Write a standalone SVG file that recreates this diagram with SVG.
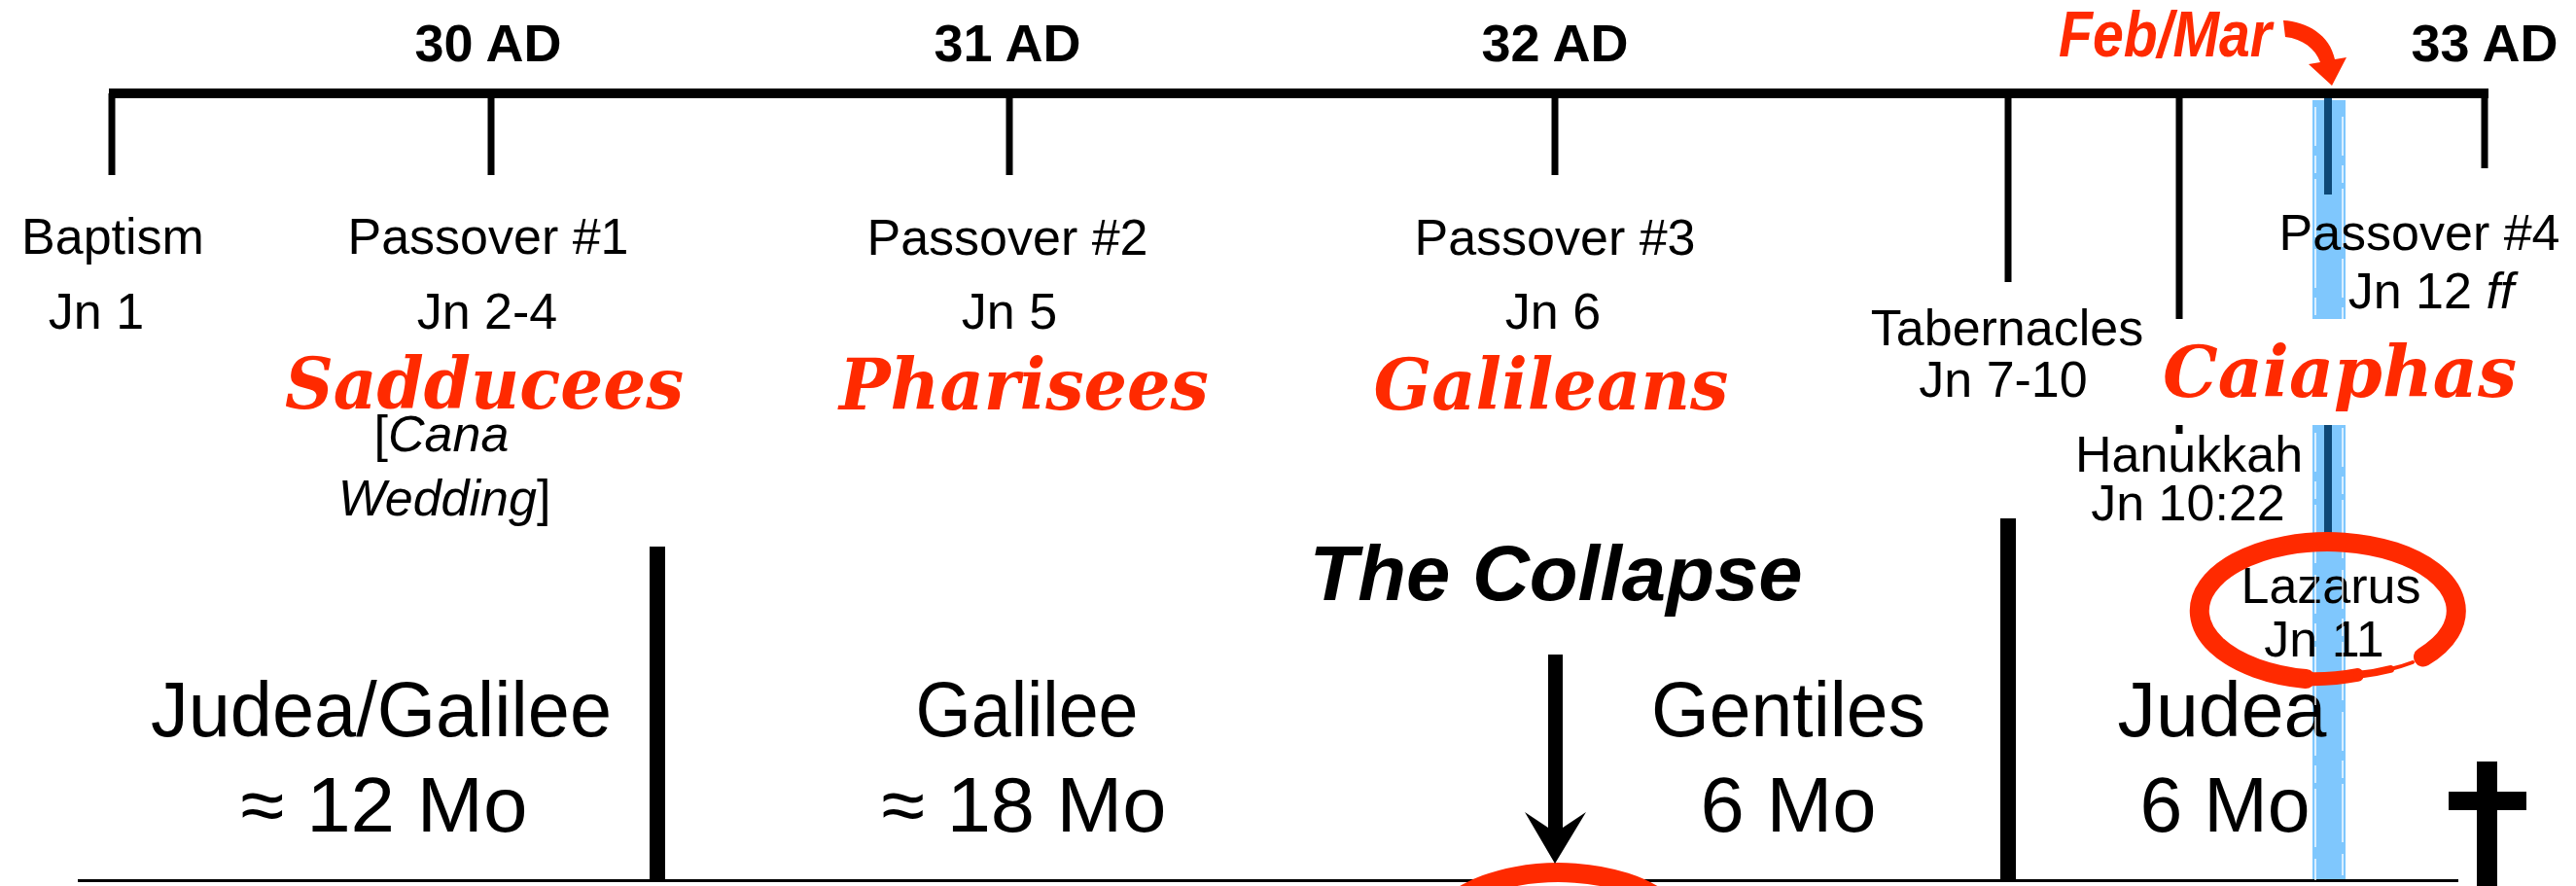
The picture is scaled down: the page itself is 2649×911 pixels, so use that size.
<svg xmlns="http://www.w3.org/2000/svg" width="2649" height="911" viewBox="0 0 2649 911">
<defs>
<style>
.bg{fill:#ffffff}
.yr{font-family:"Liberation Sans",Arial,sans-serif;font-weight:bold;font-size:54px;fill:#000;text-anchor:middle}
.lb{font-family:"Liberation Sans",Arial,sans-serif;font-size:52px;fill:#000;text-anchor:middle}
.big{font-family:"Liberation Sans",Arial,sans-serif;font-size:80px;fill:#000;text-anchor:middle}
.grp{font-family:"DejaVu Serif","Liberation Serif",serif;font-weight:bold;font-style:italic;font-size:72px;fill:#FF2A00;text-anchor:middle}
.it{font-style:italic}
.tick{stroke:#000;stroke-width:7;fill:none}
.div{stroke:#000;stroke-width:16;fill:none}
.band{fill:#7FC7FD;mix-blend-mode:multiply}
.streak{stroke:#ffffff;stroke-width:2;stroke-dasharray:40 10 18 6 60 12;fill:none;opacity:0.7}
.navy{stroke:#0D4877;stroke-width:8;fill:none}
.ring{fill:none;stroke:#FF2A00;stroke-linecap:round}
</style>
<g id="lazRing">
<path class="ring" stroke-width="20" d="M2492,675.5 A132,71 0 1 0 2371,698"/>
<path class="ring" stroke-width="14" d="M2371,698 A132,71 0 0 0 2424,694"/>
<path class="ring" stroke-width="8" d="M2424,694 A132,71 0 0 0 2458,688"/>
<path class="ring" stroke-width="4" d="M2458,688 A132,71 0 0 0 2481,681"/>
</g>
</defs>
<rect class="bg" x="0" y="0" width="2649" height="911"/>

<g id="timeline">
<rect x="112" y="91" width="2447" height="10" fill="#000"/>
<line class="tick" x1="115" y1="96" x2="115" y2="180"/>
<line class="tick" x1="505" y1="96" x2="505" y2="180"/>
<line class="tick" x1="1038" y1="96" x2="1038" y2="180"/>
<line class="tick" x1="1599" y1="96" x2="1599" y2="180"/>
<line class="tick" x1="2065" y1="96" x2="2065" y2="290"/>
<line class="tick" x1="2241" y1="96" x2="2241" y2="328"/>
<line class="tick" x1="2241" y1="437" x2="2241" y2="446"/>
<line class="tick" x1="2555" y1="96" x2="2555" y2="173"/>
<rect x="80" y="904" width="2448" height="3" fill="#000"/>
<line class="div" x1="676" y1="562" x2="676" y2="905"/>
<line class="div" x1="2065" y1="533" x2="2065" y2="905"/>
</g>

<g id="years">
<text class="yr" x="502" y="63">30 AD</text>
<text class="yr" x="1036" y="63">31 AD</text>
<text class="yr" x="1599" y="63">32 AD</text>
<text class="yr" x="2555" y="63">33 AD</text>
</g>

<g id="baptism">
<text class="lb" x="116" y="261">Baptism</text>
<text class="lb" x="99" y="338">Jn 1</text>
</g>
<g id="passover1">
<text class="lb" x="502" y="261">Passover #1</text>
<text class="lb" x="501" y="338">Jn 2-4</text>
</g>
<g id="passover2">
<text class="lb" x="1036" y="262">Passover #2</text>
<text class="lb" x="1038" y="338">Jn 5</text>
</g>
<g id="passover3">
<text class="lb" x="1599" y="262">Passover #3</text>
<text class="lb" x="1597" y="338">Jn 6</text>
</g>
<g id="tabernacles">
<text class="lb" x="2064" y="355">Tabernacles</text>
<text class="lb" x="2060" y="408">Jn 7-10</text>
</g>
<g id="passover4">
<text class="lb" x="2488" y="257">Passover #4</text>
<text class="lb" x="2500" y="317">Jn 12 <tspan class="it">ff</tspan></text>
</g>
<g id="hanukkah">
<text class="lb" x="2251" y="485">Hanukkah</text>
<text class="lb" x="2250" y="535">Jn 10:22</text>
</g>
<g id="cana">
<text class="lb" x="454" y="464">[<tspan class="it">Cana</tspan></text>
<text class="lb" x="457" y="530"><tspan class="it">Wedding</tspan>]</text>
</g>

<g id="groups">
<text class="grp" x="498" y="420" textLength="410" lengthAdjust="spacingAndGlyphs">Sadducees</text>
<text class="grp" x="1053" y="421" textLength="380" lengthAdjust="spacingAndGlyphs">Pharisees</text>
<text class="grp" x="1595" y="421" textLength="365" lengthAdjust="spacingAndGlyphs">Galileans</text>
<text class="grp" x="2406" y="408" textLength="364" lengthAdjust="spacingAndGlyphs">Caiaphas</text>
</g>

<g id="periods">
<text class="big" x="392" y="757" textLength="474" lengthAdjust="spacingAndGlyphs">Judea/Galilee</text>
<text class="big" x="395" y="855" textLength="295" lengthAdjust="spacingAndGlyphs">≈ 12 Mo</text>
<text class="big" x="1056" y="757" textLength="229" lengthAdjust="spacingAndGlyphs">Galilee</text>
<text class="big" x="1053" y="855" textLength="293" lengthAdjust="spacingAndGlyphs">≈ 18 Mo</text>
<text class="big" x="1839" y="757" textLength="282" lengthAdjust="spacingAndGlyphs">Gentiles</text>
<text class="big" x="1839" y="855" textLength="181" lengthAdjust="spacingAndGlyphs">6 Mo</text>
<text class="big" x="2285" y="757" textLength="215" lengthAdjust="spacingAndGlyphs">Judea</text>
<text class="big" x="2288" y="855" textLength="175" lengthAdjust="spacingAndGlyphs">6 Mo</text>
</g>

<g id="collapse">
<text x="1600" y="617" font-family="Liberation Sans, Arial, sans-serif" font-weight="bold" font-style="italic" font-size="80" text-anchor="middle" textLength="507" lengthAdjust="spacingAndGlyphs">The Collapse</text>
</g>

<g id="lazarus">
<text class="lb" x="2397" y="620">Lazarus</text>
<text class="lb" x="2390" y="675">Jn 11</text>
</g>

<g id="highlight">
<rect class="band" x="2378" y="103" width="34" height="225"/>
<rect class="band" x="2378" y="437" width="34" height="468"/>
<line class="streak" x1="2381" y1="110" x2="2381" y2="328"/>
<line class="streak" x1="2409" y1="120" x2="2409" y2="328"/>
<line class="streak" x1="2381" y1="445" x2="2381" y2="905"/>
<line class="streak" x1="2409" y1="440" x2="2409" y2="900"/>
<line class="navy" x1="2394" y1="101" x2="2394" y2="200"/>
<line class="navy" x1="2394" y1="437" x2="2394" y2="548"/>
</g>

<g id="lazarusRing">
<use href="#lazRing"/>
</g>
<g id="collapseRing">
<use href="#lazRing" transform="translate(-791,340)"/>
</g>

<g id="febmar">
<text x="2117" y="58" font-family="Liberation Sans, Arial, sans-serif" font-weight="bold" font-style="italic" font-size="66" fill="#FF2A00" textLength="219" lengthAdjust="spacingAndGlyphs">Feb/Mar</text>
</g>

<g id="cross">
<rect x="2547" y="783" width="21" height="128" fill="#000"/>
<rect x="2518" y="814" width="80" height="19" fill="#000"/>
</g>

<g id="connectors">
<path d="M2348,21 C2372,22 2396,36 2401,61 L2413,59 L2398,88 L2374,66 L2386,64 C2381,50 2368,40 2350,38 Z" fill="#FF2A00"/>
<path d="M1592,673 H1607 V851 L1631,835 L1599,888 L1568,835 L1592,851 Z" fill="#000"/>
</g>
</svg>
